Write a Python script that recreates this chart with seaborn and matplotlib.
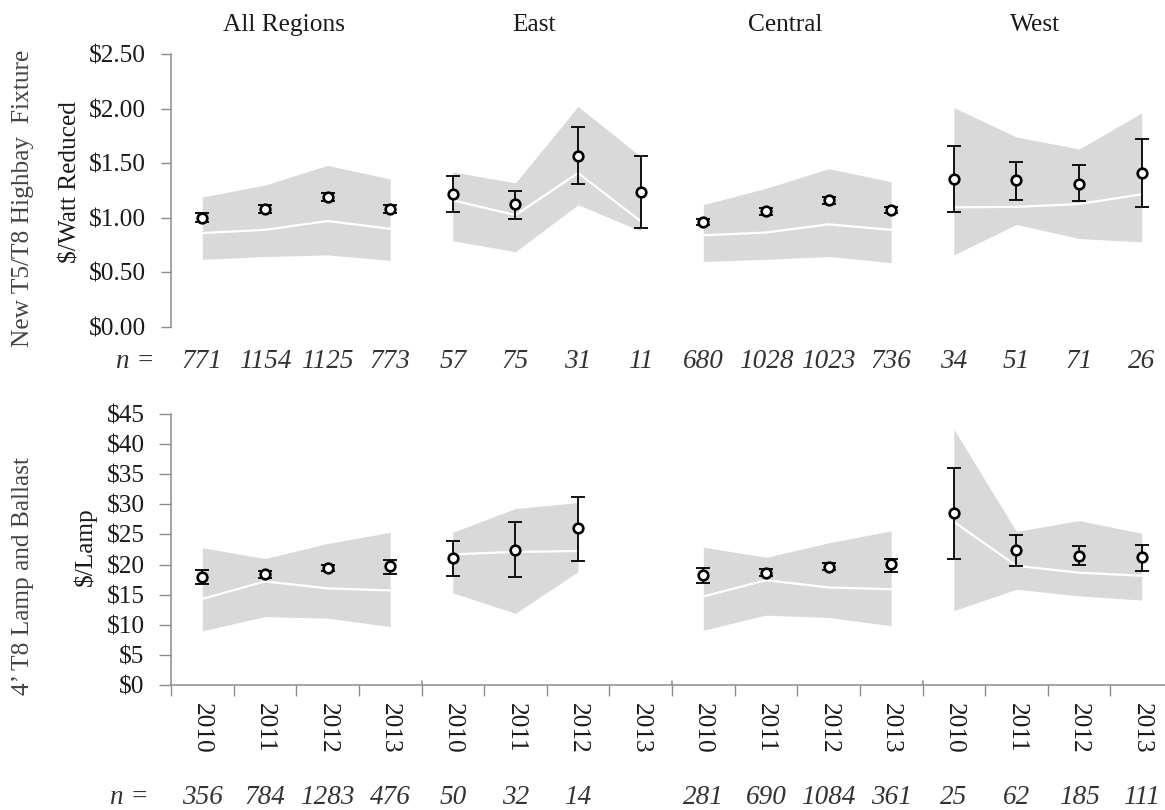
import numpy as np
import pandas as pd
import matplotlib
matplotlib.use("Agg")
import matplotlib.pyplot as plt
import matplotlib.transforms as mtransforms
import seaborn as sns

# ---------------- data ----------------
regions = ["All Regions", "East", "Central", "West"]
years = ["2010", "2011", "2012", "2013"]

# New T5/T8 Highbay Fixture ($/Watt Reduced)
fix_mean = [1.00, 1.08, 1.19, 1.08, 1.22, 1.13, 1.57, 1.24, 0.96, 1.06, 1.16, 1.07, 1.355, 1.345, 1.31, 1.41]
fix_lo   = [0.96, 1.045, 1.155, 1.045, 1.05, 0.99, 1.31, 0.905, 0.93, 1.03, 1.13, 1.04, 1.05, 1.16, 1.15, 1.10]
fix_hi   = [1.04, 1.115, 1.225, 1.115, 1.385, 1.25, 1.83, 1.57, 0.99, 1.09, 1.19, 1.10, 1.66, 1.51, 1.48, 1.72]
fix_q1   = [0.62, 0.645, 0.66, 0.61, 0.79, 0.69, 1.12, 0.88, 0.60, 0.62, 0.645, 0.59, 0.66, 0.94, 0.81, 0.78]
fix_q3   = [1.19, 1.30, 1.48, 1.355, 1.42, 1.32, 2.02, 1.56, 1.12, 1.27, 1.45, 1.33, 2.01, 1.74, 1.63, 1.96]
fix_med  = [0.86, 0.89, 0.97, 0.90, 1.16, 1.025, 1.41, 0.97, 0.84, 0.865, 0.94, 0.89, 1.096, 1.10, 1.126, 1.215]
fix_n    = ["771", "1154", "1125", "773", "57", "75", "31", "11",
            "680", "1028", "1023", "736", "34", "51", "71", "26"]

# 4' T8 Lamp and Ballast ($/Lamp)
nan = np.nan
lamp_mean = [18.0, 18.4, 19.4, 19.8, 21.1, 22.5, 26.1, nan, 18.2, 18.65, 19.65, 20.1, 28.5, 22.5, 21.5, 21.3]
lamp_lo   = [16.7, 17.8, 18.9, 18.5, 18.1, 17.9, 20.6, nan, 16.9, 18.1, 19.1, 18.8, 20.9, 19.8, 20.0, 18.9]
lamp_hi   = [19.1, 19.0, 19.9, 20.7, 23.85, 27.0, 31.3, nan, 19.4, 19.2, 20.2, 21.0, 36.1, 24.9, 23.1, 23.25]
lamp_q1   = [9.0, 11.35, 11.1, 9.7, 15.3, 11.9, 18.8, nan, 9.1, 11.6, 11.2, 9.85, 12.35, 15.9, 14.8, 14.1]
lamp_q3   = [22.8, 21.0, 23.5, 25.35, 25.35, 29.3, 30.3, nan, 22.9, 21.2, 23.6, 25.6, 42.5, 25.5, 27.3, 25.2]
lamp_med  = [14.3, 17.2, 16.05, 15.7, 21.7, 22.1, 22.25, nan, 14.7, 17.4, 16.2, 15.9, 27.1, 19.8, 18.65, 18.15]
lamp_n    = ["356", "784", "1283", "476", "50", "32", "14", "",
             "281", "690", "1084", "361", "25", "62", "185", "111"]

fix_ticks = [0, 0.5, 1.0, 1.5, 2.0, 2.5]
lamp_ticks = [0, 5, 10, 15, 20, 25, 30, 35, 40, 45]


def make_df(mean, lo, hi, q1, q3, med, n):
    return pd.DataFrame({
        "pos": np.arange(len(regions) * len(years)),
        "region": np.repeat(regions, len(years)),
        "year": years * len(regions),
        "mean": mean, "lo": lo, "hi": hi, "q1": q1, "q3": q3, "med": med, "n": n,
    })


df_fix = make_df(fix_mean, fix_lo, fix_hi, fix_q1, fix_q3, fix_med, fix_n)
df_lamp = make_df(lamp_mean, lamp_lo, lamp_hi, lamp_q1, lamp_q3, lamp_med, lamp_n)

# ---------------- style ----------------
sns.set_style("white")
plt.rcParams["font.family"] = ["Liberation Serif", "DejaVu Serif"]
plt.rcParams["text.parse_math"] = False

W, H = 1165, 810
fig = plt.figure(figsize=(W / 100, H / 100), dpi=100)
AX_GRAY = "#8c8c8c"
TXT = "#1a1a1a"
FS = 18.3
NFS = 19.5


def px_axes(left, right, top, bottom):
    return fig.add_axes([left / W, 1 - bottom / H, (right - left) / W, (bottom - top) / H])


ax1 = px_axes(171, 1173, 54, 327)
ax2 = px_axes(171, 1173, 414, 685)


def draw(ax, df):
    for r in regions:
        sub = df[(df.region == r)].dropna(subset=["mean"])
        ax.fill_between(sub["pos"], sub["q1"], sub["q3"], color="#d9d9d9", lw=0, zorder=1)
    sns.lineplot(data=df.dropna(subset=["med"]), x="pos", y="med", units="region",
                 estimator=None, color="white", lw=1.6, ax=ax, zorder=2)
    d = df.dropna(subset=["mean"])
    ax.errorbar(d["pos"], d["mean"], yerr=[d["mean"] - d["lo"], d["hi"] - d["mean"]],
                fmt="none", ecolor="black", elinewidth=1.3, capsize=5, capthick=1.3, zorder=3)
    sns.scatterplot(data=d, x="pos", y="mean", marker="o", s=48, color="white",
                    edgecolor="black", linewidth=1.9, ax=ax, zorder=4)
    ax.set_xlim(-0.5, 15.5)
    ax.set_xlabel("")
    ax.set_ylabel("")
    for s in ["top", "right"]:
        ax.spines[s].set_visible(False)
    for s in ["left", "bottom"]:
        ax.spines[s].set_color(AX_GRAY)
        ax.spines[s].set_linewidth(1.1)


draw(ax1, df_fix)
draw(ax2, df_lamp)

# top panel axes
ax1.set_ylim(0, 2.5)
ax1.set_yticks(fix_ticks)
ax1.set_yticklabels([f"${v:.2f}" for v in fix_ticks])
ax1.spines["bottom"].set_visible(False)
ax1.set_xticks([])
ax1.tick_params(axis="y", length=7, width=1, color=AX_GRAY, pad=11,
                labelsize=FS, labelcolor=TXT, left=True)

# bottom panel axes
ax2.set_ylim(0, 45)
ax2.set_yticks(lamp_ticks)
ax2.set_yticklabels([f"${v}" for v in lamp_ticks])
ax2.tick_params(axis="y", length=9, width=1, color=AX_GRAY, pad=10,
                labelsize=FS, labelcolor=TXT, left=True)
ax2.set_xticks(df_lamp["pos"])
ax2.set_xticklabels(df_lamp["year"], rotation=-90)
ax2.set_xticks(np.arange(-0.5, 16.0, 1.0), minor=True)
ax2.tick_params(axis="x", which="major", length=0, pad=13, labelsize=FS, labelcolor=TXT, bottom=True)
ax2.tick_params(axis="x", which="minor", length=8, width=1, color=AX_GRAY, bottom=True)
for b in [3.5, 7.5, 11.5]:
    ax2.plot([b, b], [0, 0.015], transform=ax2.get_xaxis_transform(), color=AX_GRAY,
             lw=1.1, clip_on=False, zorder=5)

# region titles
tr_top = mtransforms.blended_transform_factory(ax1.transData, fig.transFigure)
for i, r in enumerate(regions):
    xc = i * len(years) + (len(years) - 1) / 2 - 0.2
    ax1.text(xc, 1 - 25 / H, r, transform=tr_top, ha="center", va="center",
             fontsize=FS, color=TXT)

# n rows
for ax, df, ypx, nx in [(ax1, df_fix, 362, 135), (ax2, df_lamp, 797, 129)]:
    tr = mtransforms.blended_transform_factory(ax.transData, fig.transFigure)
    fig.text(nx / W, 1 - ypx / H, "n =", ha="center", va="center", fontsize=NFS,
             style="italic", color="#333333")
    for p, n in zip(df["pos"], df["n"]):
        ax.text(p, 1 - ypx / H, n, transform=tr, ha="center", va="center",
                fontsize=NFS, style="italic", color="#333333", clip_on=False)

# axis labels
fig.text(70 / W, 1 - 182 / H, "$/Watt Reduced", rotation=90, ha="center", va="center",
         fontsize=FS, color=TXT)
fig.text(85 / W, 1 - 547 / H, "$/Lamp", rotation=90, ha="center", va="center",
         fontsize=FS, color=TXT)
fig.text(23 / W, 1 - 198 / H, "New T5/T8 Highbay  Fixture", rotation=90, ha="center",
         va="center", fontsize=FS, color="#444444")
fig.text(23 / W, 1 - 576 / H, "4\u2019 T8 Lamp and Ballast", rotation=90, ha="center",
         va="center", fontsize=FS, color="#444444")

fig.savefig("out.png", dpi=100)
